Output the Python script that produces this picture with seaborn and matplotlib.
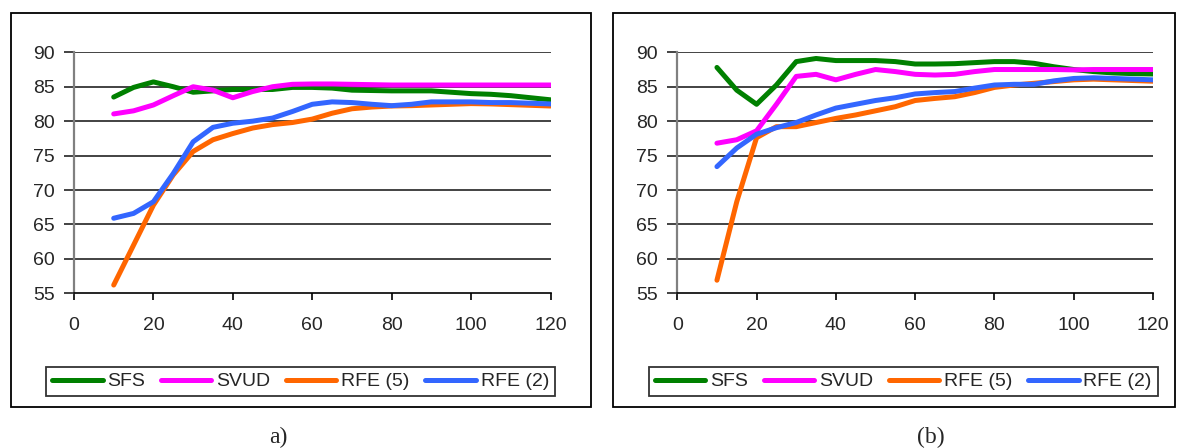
import numpy as np
import pandas as pd
import matplotlib
matplotlib.use("Agg")
import matplotlib.pyplot as plt
from matplotlib.patches import Rectangle
import seaborn as sns

# ---------------- data ----------------
x_vals = [10, 15, 20, 25, 30, 35, 40, 45, 50, 55, 60, 65, 70, 75, 80, 85, 90, 95, 100, 105, 110, 115, 120]
series_names = ["SFS", "SVUD", "RFE (5)", "RFE (2)"]

a_sfs = [83.5, 84.9, 85.7, 85.0, 84.2, 84.4, 84.6, 84.6, 84.6, 84.9, 84.9, 84.8, 84.5, 84.45, 84.4, 84.4, 84.4, 84.2, 84.0, 83.9, 83.7, 83.4, 83.1]
a_svud = [81.05, 81.5, 82.35, 83.7, 85.0, 84.5, 83.4, 84.3, 85.0, 85.35, 85.4, 85.4, 85.35, 85.3, 85.25, 85.25, 85.25, 85.25, 85.25, 85.25, 85.25, 85.25, 85.25]
a_rfe5 = [56.2, 62.0, 67.8, 72.2, 75.6, 77.3, 78.2, 79.0, 79.5, 79.8, 80.3, 81.15, 81.8, 82.05, 82.2, 82.25, 82.35, 82.45, 82.55, 82.5, 82.4, 82.3, 82.2]
a_rfe2 = [65.9, 66.6, 68.3, 72.4, 77.0, 79.1, 79.7, 80.0, 80.45, 81.4, 82.45, 82.8, 82.7, 82.45, 82.25, 82.45, 82.8, 82.8, 82.8, 82.7, 82.7, 82.6, 82.5]

b_sfs = [87.8, 84.5, 82.45, 85.25, 88.65, 89.1, 88.8, 88.8, 88.8, 88.65, 88.3, 88.3, 88.35, 88.5, 88.65, 88.65, 88.4, 87.9, 87.5, 87.2, 87.0, 86.9, 86.85]
b_svud = [76.8, 77.3, 78.6, 82.45, 86.5, 86.8, 86.0, 86.8, 87.5, 87.2, 86.8, 86.7, 86.8, 87.2, 87.5, 87.5, 87.5, 87.5, 87.45, 87.5, 87.5, 87.5, 87.5]
b_rfe5 = [56.9, 68.3, 77.6, 79.2, 79.2, 79.8, 80.4, 80.9, 81.5, 82.1, 83.0, 83.3, 83.55, 84.15, 84.9, 85.25, 85.5, 85.75, 86.0, 86.1, 86.0, 85.9, 85.8]
b_rfe2 = [73.4, 76.1, 78.1, 79.05, 79.8, 80.9, 81.9, 82.45, 83.0, 83.4, 83.95, 84.15, 84.3, 84.8, 85.25, 85.35, 85.35, 85.85, 86.2, 86.3, 86.2, 86.1, 86.0]

x_ticks = [0, 20, 40, 60, 80, 100, 120]
y_ticks = [55, 60, 65, 70, 75, 80, 85, 90]
captions = ["a)", "(b)"]
colors = ["#008000", "#FF00FF", "#FF6600", "#3366FF"]

# ---------------- style ----------------
sns.set_style("white")
plt.rcParams["font.family"] = ["Liberation Sans", "DejaVu Sans"]

W, H = 1179, 448
fig = plt.figure(figsize=(W / 100, H / 100), dpi=100)
FS = 14


def frac_rect(x0, y0, x1, y1):
    return [x0 / W, 1 - y1 / H, (x1 - x0) / W, (y1 - y0) / H]


panels = [
    dict(data=[a_sfs, a_svud, a_rfe5, a_rfe2], ax=(74, 52.3, 550.5, 293.3),
         box=(10.5, 13.3, 591, 406.7), leg=(44, 364, 557, 399), cap=(278.5, 437)),
    dict(data=[b_sfs, b_svud, b_rfe5, b_rfe2], ax=(677.3, 52.3, 1153, 293.3),
         box=(613, 13.3, 1175, 406.7), leg=(646.5, 364, 1160, 399), cap=(930.6, 437)),
]

for i, p in enumerate(panels):
    # frame around panel
    bx0, by0, bx1, by1 = p["box"]
    fig.patches.append(Rectangle((bx0 / W, 1 - by1 / H), (bx1 - bx0) / W, (by1 - by0) / H,
                                 transform=fig.transFigure, fill=False,
                                 edgecolor="black", linewidth=1.3, zorder=0))
    ax = fig.add_axes(frac_rect(*p["ax"]))
    rows = []
    for name, vals in zip(series_names, p["data"]):
        for xv, yv in zip(x_vals, vals):
            rows.append({"x": xv, "y": yv, "series": name})
    df = pd.DataFrame(rows)
    sns.lineplot(data=df, x="x", y="y", hue="series", hue_order=series_names,
                 palette=colors, linewidth=3.6, ax=ax, legend=False, sort=False,
                 solid_capstyle="round", solid_joinstyle="round", zorder=3)
    ax.set_xlim(0, 120)
    ax.set_ylim(55, 90)
    ax.set_xticks(x_ticks)
    ax.set_yticks(y_ticks)
    ax.set_xlabel("")
    ax.set_ylabel("")
    for yv in y_ticks[1:]:
        ax.axhline(yv, color="#222222", linewidth=1.2, zorder=1)
    for s in ["top", "right"]:
        ax.spines[s].set_visible(False)
    ax.spines["left"].set_color("#808080")
    ax.spines["left"].set_linewidth(1.6)
    ax.spines["bottom"].set_color("black")
    ax.spines["bottom"].set_linewidth(1.2)
    ax.tick_params(axis="y", direction="out", length=7, width=1.2, color="#222222",
                   pad=7, labelsize=FS, left=True)
    ax.tick_params(axis="x", direction="out", length=5, width=1.2, color="black",
                   pad=12, labelsize=FS, bottom=True)
    ax.set_facecolor("white")

    # legend
    lx0, ly0, lx1, ly1 = p["leg"]
    leg = fig.legend(handles=ax.get_lines()[:4], labels=series_names, ncol=4,
                     loc="center", bbox_to_anchor=((lx0 + lx1) / 2 / W, 1 - (ly0 + ly1) / 2 / H),
                     bbox_transform=fig.transFigure, frameon=True, fancybox=False,
                     fontsize=FS, handlelength=2.6, handletextpad=0.25,
                     columnspacing=0.8, borderpad=0.3, borderaxespad=0)
    leg.get_frame().set_edgecolor("black")
    leg.get_frame().set_linewidth(1.3)
    for h in leg.get_lines():
        h.set_linewidth(3.6)
        h.set_solid_capstyle("round")

    cx, cy = p["cap"]
    fig.text(cx / W, 1 - cy / H, captions[i], ha="center", va="center",
             fontsize=17, family=["Liberation Serif", "DejaVu Serif"])

fig.savefig("out.png", dpi=100, facecolor="white")
